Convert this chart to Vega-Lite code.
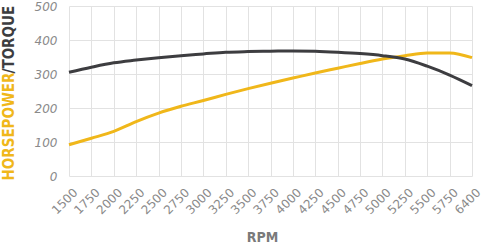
{
  "$schema": "https://vega.github.io/schema/vega-lite/v6.json",
  "width": 403,
  "height": 170,
  "autosize": {"type": "none"},
  "padding": {"left": 69, "top": 6, "right": 10, "bottom": 68},
  "background": "#ffffff",
  "config": {
    "view": {"stroke": null},
    "axis": {"gridColor": "#e2e2e2", "gridWidth": 1, "domain": false, "ticks": false}
  },
  "data": {
    "values": [
      {"rpm": 1500, "series": "Horsepower", "value": 92},
      {"rpm": 1750, "series": "Horsepower", "value": 111},
      {"rpm": 2000, "series": "Horsepower", "value": 131},
      {"rpm": 2250, "series": "Horsepower", "value": 160},
      {"rpm": 2500, "series": "Horsepower", "value": 185},
      {"rpm": 2750, "series": "Horsepower", "value": 205},
      {"rpm": 3000, "series": "Horsepower", "value": 222},
      {"rpm": 3250, "series": "Horsepower", "value": 240},
      {"rpm": 3500, "series": "Horsepower", "value": 257},
      {"rpm": 3750, "series": "Horsepower", "value": 273},
      {"rpm": 4000, "series": "Horsepower", "value": 288},
      {"rpm": 4250, "series": "Horsepower", "value": 303},
      {"rpm": 4500, "series": "Horsepower", "value": 317},
      {"rpm": 4750, "series": "Horsepower", "value": 331},
      {"rpm": 5000, "series": "Horsepower", "value": 344},
      {"rpm": 5250, "series": "Horsepower", "value": 354},
      {"rpm": 5500, "series": "Horsepower", "value": 362},
      {"rpm": 5750, "series": "Horsepower", "value": 362},
      {"rpm": 6400, "series": "Horsepower", "value": 348},
      {"rpm": 1500, "series": "Torque", "value": 305},
      {"rpm": 1750, "series": "Torque", "value": 320},
      {"rpm": 2000, "series": "Torque", "value": 333},
      {"rpm": 2250, "series": "Torque", "value": 341},
      {"rpm": 2500, "series": "Torque", "value": 348},
      {"rpm": 2750, "series": "Torque", "value": 354},
      {"rpm": 3000, "series": "Torque", "value": 359},
      {"rpm": 3250, "series": "Torque", "value": 364},
      {"rpm": 3500, "series": "Torque", "value": 366},
      {"rpm": 3750, "series": "Torque", "value": 367},
      {"rpm": 4000, "series": "Torque", "value": 368},
      {"rpm": 4250, "series": "Torque", "value": 367},
      {"rpm": 4500, "series": "Torque", "value": 364},
      {"rpm": 4750, "series": "Torque", "value": 360},
      {"rpm": 5000, "series": "Torque", "value": 354},
      {"rpm": 5250, "series": "Torque", "value": 344},
      {"rpm": 5500, "series": "Torque", "value": 323},
      {"rpm": 5750, "series": "Torque", "value": 297},
      {"rpm": 6400, "series": "Torque", "value": 266}
    ]
  },
  "encoding": {
    "x": {
      "field": "rpm",
      "type": "ordinal",
      "scale": {"type": "point", "padding": 0},
      "axis": {
        "title": "RPM",
        "titleFont": "DejaVu Sans Condensed",
        "titleFontWeight": "bold",
        "titleFontSize": 14,
        "titleColor": "#7a7a7a",
        "titleX": 193,
        "titleY": 61,
        "titleAlign": "center",
        "titleBaseline": "middle",
        "labelAngle": 315,
        "labelAlign": "right",
        "labelBaseline": "middle",
        "labelFont": "DejaVu Sans",
        "labelFontSize": 12,
        "labelColor": "#8a8a8a",
        "labelPadding": 14,
        "labelOffset": 6,
        "grid": true
      }
    }
  },
  "layer": [
    {
      "transform": [{"filter": "datum.series === 'Horsepower'"}],
      "mark": {"type": "line", "color": "#f0b71a", "strokeWidth": 3, "interpolate": "monotone"},
      "encoding": {
        "y": {
          "field": "value",
          "type": "quantitative",
          "scale": {"domain": [0, 500]},
          "axis": {
            "orient": "left",
            "values": [0, 100, 200, 300, 400, 500],
            "title": "HORSEPOWER",
            "titleFont": "DejaVu Sans Condensed",
            "titleFontWeight": "bold",
            "titleFontSize": 15,
            "titleColor": "#f0b71a",
            "titleAngle": 270,
            "titleAlign": "left",
            "titleBaseline": "middle",
            "titleX": -61,
            "titleY": 174,
            "labelFont": "DejaVu Sans",
            "labelFontStyle": "italic",
            "labelFontSize": 12,
            "labelColor": "#8a8a8a",
            "labelPadding": 12,
            "grid": true
          }
        }
      }
    },
    {
      "transform": [{"filter": "datum.series === 'Torque'"}],
      "mark": {"type": "line", "color": "#3d3d40", "strokeWidth": 3, "interpolate": "monotone"},
      "encoding": {
        "y": {
          "field": "value",
          "type": "quantitative",
          "scale": {"domain": [0, 500]},
          "axis": {
            "orient": "left",
            "title": "/TORQUE",
            "titleFont": "DejaVu Sans Condensed",
            "titleFontWeight": "bold",
            "titleFontSize": 15,
            "titleColor": "#3d3d40",
            "titleAngle": 270,
            "titleAlign": "left",
            "titleBaseline": "middle",
            "titleX": -61,
            "titleY": 67,
            "labels": false,
            "grid": false
          }
        }
      }
    }
  ],
  "resolve": {"scale": {"y": "independent"}}
}
